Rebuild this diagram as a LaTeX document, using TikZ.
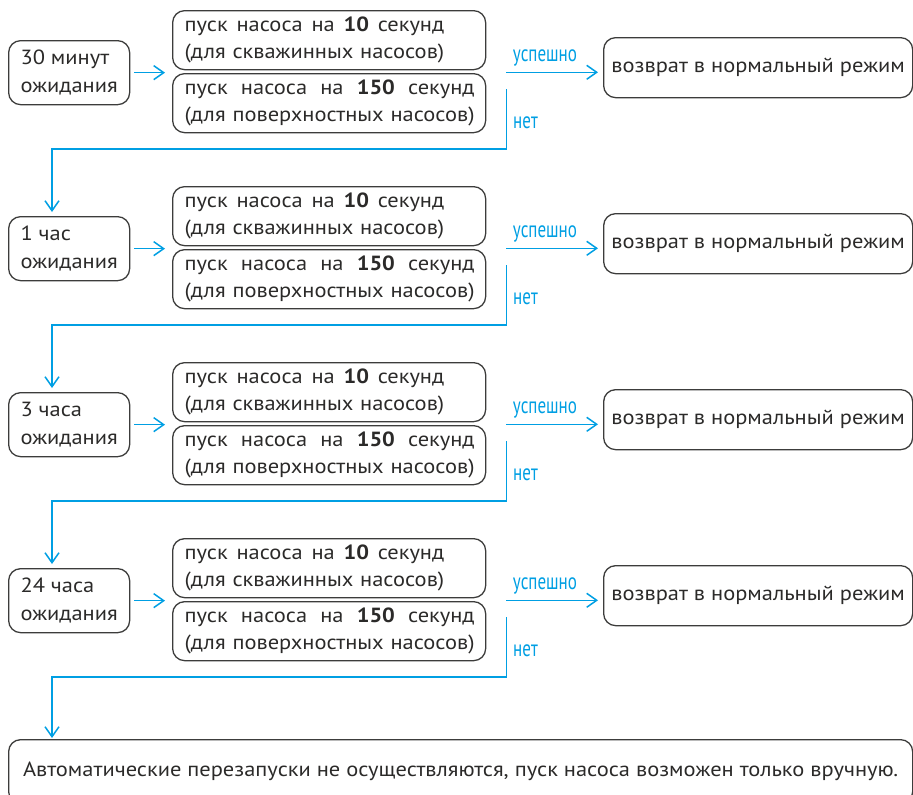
\documentclass[tikz,border=0pt]{standalone}
\usepackage{fontspec}
\setmainfont{PT Sans}[FakeStretch=1.095]
\newfontfamily\condfont[FakeStretch=0.74]{PT Sans}
\usetikzlibrary{arrows.meta}
\definecolor{ink}{RGB}{43,42,41}
\definecolor{edgec}{RGB}{60,60,59}
\definecolor{cyanb}{RGB}{0,159,227}
\newlength\jw
\newcommand\jtwo[2]{\settowidth\jw{#2}\hbox to \jw{#1}\\\mbox{#2}}
\hfuzz=50pt
\begin{document}
\begin{tikzpicture}[x=1pt,y=-1pt,
  every node/.style={text=ink,font=\fontsize{20.5}{27.5}\selectfont},
  box/.style={draw=edgec,line width=1.3pt,rounded corners=12pt,inner sep=0pt,anchor=north west},
  wait/.style={box,minimum width=121pt,minimum height=64pt,align=left},
  pump/.style={box,minimum width=313pt,minimum height=59pt,text width=289pt,inner xsep=12pt,align=left},
  ret/.style={box,minimum width=309pt,minimum height=60pt},
  arr/.style={draw=cyanb,line width=1.5pt,-{Straight Barb[length=10pt,width=14pt]}},
  lbl/.style={text=cyanb,font=\condfont\fontsize{23}{23}\selectfont,inner sep=0pt,anchor=base}
]
\clip (0,0) rectangle (913,795);
\foreach \n/\lab in {1/{30 минут},2/{1 час},3/{3 часа},4/{24 часа}}{
  \pgfmathsetmacro\dy{176*(\n-1)}
  \node[wait] (L\n) at (8,40+\dy) {\lab\\ожидания};
  \node[pump] (T\n) at (172,10+\dy) {\jtwo{пуск\hfill насоса\hfill на\hfill \textbf{10}\hfill секунд}{(для скважинных насосов)}};
  \node[pump] (B\n) at (172,73+\dy) {\jtwo{пуск\hfill насоса\hfill на\hfill \textbf{150}\hfill секунд}{(для поверхностных насосов)}};
  \node[ret] (R\n) at (603,37+\dy) {возврат в нормальный режим};
  \node[lbl] (S\n) at (545,61.5+\dy) {успешно};
  \node[lbl] (N\n) at (525.5,128.3+\dy) {нет};
  \coordinate (C\n) at (52,149+\dy);
  \draw[arr] ([xshift=4pt]L\n.east) -- ([xshift=-7pt]L\n.east -| T\n.west);
  \draw[arr] ([xshift=20pt,yshift=-2pt]T\n.south east) -- ([xshift=-5pt,yshift=-2pt]T\n.south east -| R\n.west);
}
\node[box,minimum width=904pt,minimum height=64pt] (F) at (8,739) {Автоматические перезапуски не осуществляются, пуск насоса возможен только вручную.};
\draw[arr,shorten >=4pt] ([xshift=20pt,yshift=14pt]B1.east) |- (C1) -- (C1 |- L2.north);
\draw[arr,shorten >=4pt] ([xshift=20pt,yshift=14pt]B2.east) |- (C2) -- (C2 |- L3.north);
\draw[arr,shorten >=4pt] ([xshift=20pt,yshift=14pt]B3.east) |- (C3) -- (C3 |- L4.north);
\draw[arr,shorten >=1pt] ([xshift=20pt,yshift=14pt]B4.east) |- (C4) -- (C4 |- F.north);
\end{tikzpicture}
\end{document}
